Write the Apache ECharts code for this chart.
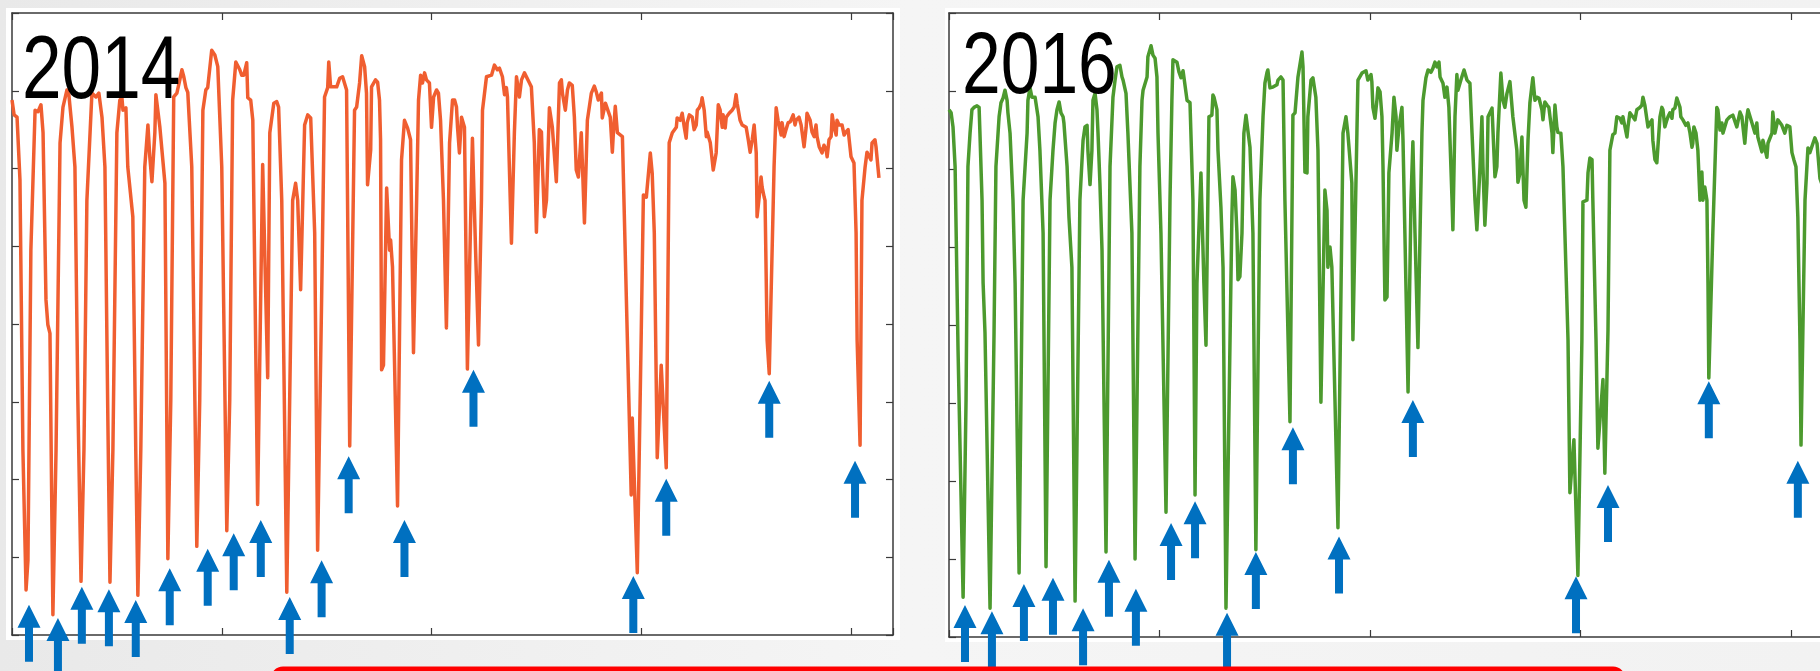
<!DOCTYPE html>
<html>
<head>
<meta charset="utf-8">
<script src="https://cdn.jsdelivr.net/npm/echarts@6/dist/echarts.min.js"></script>
<style>
  html, body { margin: 0; padding: 0; }
  #chart { width: 1820px; height: 671px; }
</style>
</head>
<body>
<div id="chart"></div>
<script>
// 2014: day index / daily output (x: 0..420, y: 0..80)
const days2014 = [0,1.0,2.4,3.8,5.2,6.7,7.6,9.0,11.0,12.4,13.8,14.8,16.2,17.1,18.1,19.5,21.0,22.9,24.3,26.2,27.1,28.6,30.0,31.4,32.9,34.3,35.7,38.1,39.0,40.0,41.4,42.9,44.3,45.7,46.7,48.1,50.0,51.4,52.4,52.9,54.3,55.2,57.6,59.0,60.0,61.4,63.3,64.8,65.7,66.7,68.1,68.6,70.5,72.9,74.3,75.7,77.1,78.6,80.0,81.0,81.9,82.9,83.8,85.7,88.1,89.5,91.0,92.4,93.3,95.2,96.7,98.1,100.0,102.4,103.8,105.2,106.7,107.6,108.6,109.5,110.5,111.9,112.4,113.8,114.8,116.2,117.1,119.5,121.9,122.9,124.8,126.2,127.1,128.6,131.0,133.8,135.2,136.2,137.6,139.5,141.0,142.4,144.3,145.7,147.6,149.0,150.5,151.0,151.9,154.8,156.2,157.6,159.5,161.0,163.3,164.3,165.7,166.7,168.1,169.0,169.5,171.0,171.4,173.3,174.3,175.2,175.7,176.2,177.1,178.6,180.0,180.5,181.4,183.8,185.7,187.1,188.6,190.0,191.4,192.9,193.8,194.8,195.7,196.7,197.6,199.0,200.0,201.0,202.4,203.3,204.3,205.7,207.1,208.6,210.0,211.0,211.9,212.4,213.3,214.3,214.8,215.7,217.1,219.5,221.0,222.4,223.8,224.3,226.2,228.6,230.0,231.4,232.4,233.8,234.8,235.7,236.2,238.1,239.5,240.5,241.9,242.9,244.3,245.2,246.7,247.6,249.0,250.0,251.4,252.4,252.9,253.8,254.8,256.2,257.6,259.5,261.0,261.9,262.4,263.8,264.8,265.7,267.1,268.1,269.0,270.0,271.4,272.9,274.3,276.2,277.6,278.6,279.5,281.0,281.4,282.9,283.8,285.2,286.2,286.7,287.6,288.6,289.5,291.0,292.9,295.2,295.7,298.1,300.0,301.0,302.4,304.3,305.2,306.2,307.6,309.5,311.9,313.3,314.8,316.7,317.1,318.6,319.5,320.5,321.4,321.9,322.9,323.8,324.3,325.2,326.2,326.7,327.6,328.6,329.0,330.0,331.0,331.4,332.9,333.8,334.3,335.7,336.7,337.6,338.6,339.0,340.0,340.5,341.9,343.3,344.3,345.2,345.7,347.1,348.1,350.0,351.0,351.9,352.9,353.8,354.8,355.2,356.2,357.1,357.6,358.6,359.0,360.0,361.0,363.3,364.3,365.2,366.7,367.1,368.1,369.0,370.0,371.0,372.4,373.3,373.8,375.2,376.2,376.7,377.6,378.6,379.0,380.5,381.4,382.4,383.3,383.8,384.8,386.2,387.1,388.1,388.6,389.5,390.5,391.0,391.9,392.9,393.3,394.3,395.7,396.7,397.6,398.6,400.0,401.4,402.4,402.9,404.3,405.2,406.7,407.6,409.5,410.0,411.4,411.9,413.3];
const values2014 = [68.8,66.9,66.6,58.5,23.8,5.8,9.6,49.5,67.5,67.3,68.2,64.6,43.1,39.9,38.8,2.6,23.8,63.3,67.9,70.1,69.5,65.3,60.2,30.2,6.9,23.8,55.9,69.7,69.8,69.2,69.7,66.6,60.2,27.7,6.8,23.8,64.6,68.8,69.1,67.5,67.8,60.2,53.8,23.8,5.1,23.8,60.2,65.6,61.5,58.3,64.6,69.5,65.3,58.1,9.8,30.2,69.2,69.7,71.4,72.7,71.8,70.4,69.8,60.2,11.4,30.2,67.5,70.1,70.4,75.2,74.6,73.1,60.2,13.4,30.2,68.8,73.7,73.7,72.7,72.0,72.0,73.6,69.1,68.8,66.2,36.7,16.8,60.5,33.1,64.6,68.4,68.6,67.9,55.9,5.5,55.9,58.1,55.9,44.4,65.6,66.9,66.5,51.7,10.9,43.1,69.2,70.4,73.7,70.5,70.5,71.6,71.8,70.1,24.3,67.5,67.9,71.0,74.5,73.1,69.7,57.9,62.4,70.5,71.4,71.1,68.8,63.7,34.1,34.7,57.5,49.5,50.8,47.3,16.6,61.1,66.2,65.2,63.7,36.3,55.9,68.8,72.0,71.0,72.3,71.4,71.0,65.3,69.2,70.1,69.7,66.2,55.9,39.5,63.3,68.8,68.8,67.9,65.3,62.0,66.6,66.5,65.3,34.2,63.9,49.5,37.3,55.9,67.5,71.8,72.0,73.3,72.7,72.9,71.8,69.5,70.4,69.2,50.4,64.6,71.8,69.2,71.4,72.3,72.4,71.0,70.5,63.3,51.8,65.0,64.7,60.2,53.8,55.9,67.8,65.3,58.3,71.0,71.4,69.7,67.5,70.1,71.0,70.7,66.6,59.8,58.9,64.6,53.0,66.2,69.7,70.6,69.8,68.8,69.7,66.5,68.4,68.2,66.6,62.1,64.6,68.0,64.6,64.7,64.1,43.1,18.0,27.9,8.0,39.2,56.6,56.3,62.0,59.4,51.7,22.8,34.7,21.5,63.3,64.6,65.3,66.5,66.2,67.1,65.3,63.9,65.9,66.9,67.1,66.6,65.0,65.6,67.5,67.8,68.4,69.1,67.5,64.1,64.7,63.3,61.1,59.8,62.0,68.2,67.5,65.3,66.9,65.2,66.6,67.1,67.5,67.9,69.5,68.4,66.2,65.6,65.3,63.7,62.1,63.7,65.6,62.0,53.8,56.3,58.9,57.6,56.3,55.9,37.9,33.6,60.2,67.8,66.2,64.3,65.9,64.1,65.0,65.9,66.0,66.9,65.6,66.2,66.6,65.6,64.6,62.8,65.3,67.1,66.2,64.7,64.1,65.6,64.1,62.8,62.0,63.0,62.4,61.5,63.7,64.1,66.9,65.3,64.3,66.2,65.6,65.6,64.3,64.7,65.0,61.5,60.7,51.7,37.9,24.4,55.9,60.2,62.1,61.1,63.3,63.7,62.8,58.8];

// 2016
const days2016 = [0,1.0,1.9,2.9,4.3,6.7,8.1,9.0,10.0,10.9,11.9,12.8,13.3,14.3,14.7,15.7,16.2,17.1,19.5,21.4,22.3,23.8,24.7,25.7,26.6,27.6,28.0,29.0,30.4,31.4,33.3,35.2,37.1,37.5,38.5,39.4,39.9,40.9,41.8,42.3,43.2,44.7,46.1,48.0,49.4,50.4,51.3,52.3,53.2,54.2,54.6,56.1,57.0,58.4,59.9,62.2,63.7,64.6,65.6,66.0,67.0,67.9,68.4,69.4,70.3,70.8,71.7,72.7,74.6,76.5,77.9,78.9,79.8,80.3,81.2,82.2,82.7,84.1,85.0,86.9,88.4,90.7,91.7,92.2,93.1,94.1,94.5,96.0,96.9,97.9,98.8,99.3,100.7,103.1,105.0,105.9,106.4,108.3,109.3,110.2,111.2,112.1,113.1,113.5,114.5,115.9,116.9,117.8,119.7,121.1,122.1,123.5,124.9,125.4,125.9,127.3,127.8,129.2,130.2,131.6,134.4,134.9,135.9,136.8,137.3,138.2,139.2,140.1,141.1,142.0,143.0,144.4,145.8,147.7,149.2,150.1,151.1,151.5,152.5,153.9,155.8,156.3,157.7,158.7,159.6,162.0,163.4,164.4,165.8,167.7,168.2,169.1,170.1,170.5,172.0,172.9,174.3,175.3,176.7,178.6,179.6,180.0,181.0,181.9,184.8,187.2,188.6,189.5,191.4,191.9,193.8,194.3,196.2,196.7,198.1,199.0,200.5,200.9,201.4,202.4,203.3,203.8,204.8,205.7,206.2,207.1,208.1,209.0,210.5,211.4,212.4,212.8,213.8,215.2,215.7,216.6,218.1,219.5,220.4,221.4,222.8,223.8,224.7,225.2,226.6,227.6,229.0,229.9,230.9,231.8,232.8,233.3,234.7,235.6,236.6,237.5,239.0,239.4,240.4,241.3,241.8,243.2,244.7,246.1,247.5,248.5,249.9,250.8,252.3,253.2,253.7,254.6,255.6,256.1,258.0,258.9,259.4,260.3,260.8,262.2,263.2,264.1,265.1,266.5,267.9,269.8,270.3,271.3,272.2,273.2,274.1,275.1,276.0,277.4,278.4,279.3,280.3,281.7,282.2,283.1,284.1,285.0,286.5,286.9,287.9,288.8,289.3,290.7,291.7,293.1,294.1,295.0,296.9,298.8,300.7,301.2,303.1,303.6,304.5,305.5,305.9,307.4,308.3,310.7,311.6,313.1,314.0,315.4,316.4,317.3,318.8,319.7,320.2,322.1,322.6,323.5,324.9,325.9,326.8,328.3,329.2,329.7,330.6,331.6,332.1,333.0,334.0,334.4,335.4,336.3,336.8,337.8,338.7,339.2,340.1,341.1,341.6,342.5,343.5,343.9,344.9,345.8,347.3,347.7,348.7,350.1,351.1,352.0,353.0,353.4,353.9,354.9,355.8,356.8,357.7,358.2,359.1,360.1,360.6,361.0,362.9,363.9,364.8,365.3,366.3,367.2,367.7,369.6,371.0,372.4,374.3,375.8,376.7,378.1,379.1,379.6,381.5,382.9,383.8,384.3,386.2,386.7,388.6,389.1,391.0,391.4,392.4,393.8,395.7,397.1,398.1,399.5,400.5,401.4,402.4,403.3,404.3,404.8,406.7,407.6,408.1,409.0,410.5,411.4,412.4,413.8,415.7];
const values2016 = [67.6,67.2,65.4,60.3,36.8,5.1,30.4,60.3,64.6,67.6,67.9,67.8,68.1,67.9,64.6,56.0,45.4,39.0,3.7,39.0,60.3,66.7,68.5,69.1,70.1,68.8,67.2,64.6,56.0,45.4,8.2,56.0,64.6,68.8,70.4,69.2,69.1,69.2,69.1,66.7,62.4,51.8,9.0,56.0,62.4,65.9,67.6,68.6,67.2,66.7,65.9,60.3,53.8,47.4,4.6,56.0,63.7,65.4,65.6,62.4,58.0,62.4,68.8,69.7,67.6,64.6,58.2,49.6,10.9,60.3,69.2,71.4,73.1,73.0,73.3,71.8,71.4,69.7,64.6,51.8,10.0,60.3,68.8,70.1,70.3,71.8,74.4,75.8,74.6,74.2,71.8,64.6,51.8,16.0,56.0,68.8,74.0,73.7,72.4,71.7,72.6,72.6,68.8,69.0,68.5,56.0,18.2,45.4,59.5,45.4,37.4,66.7,66.9,69.5,69.2,67.6,62.4,55.1,47.4,3.7,53.8,59.0,57.3,51.8,45.8,46.2,51.8,64.6,66.9,66.7,62.8,51.8,11.2,56.0,66.7,71.0,72.4,72.7,70.4,70.5,70.8,71.4,71.8,71.4,56.0,27.6,66.9,67.2,71.8,75.0,73.1,59.6,59.5,66.7,71.4,71.7,69.2,62.4,30.1,57.3,54.7,47.4,50.0,47.4,14.0,64.6,66.7,64.6,58.2,38.1,64.6,71.4,72.3,72.1,72.6,71.4,72.1,71.2,67.9,66.5,68.8,70.4,69.9,66.7,60.3,43.2,43.6,59.5,64.6,69.2,66.7,62.4,65.4,67.9,63.7,51.8,31.4,56.0,63.5,51.8,37.1,51.8,64.6,68.8,71.7,72.7,72.4,72.9,73.7,73.1,73.7,71.8,71.0,69.2,70.5,67.9,56.0,52.2,66.7,72.1,70.1,71.4,72.7,71.4,71.0,64.6,56.0,52.2,60.3,66.7,60.3,52.8,58.2,66.7,67.8,62.1,59.0,60.3,64.6,72.3,68.8,67.9,69.7,71.2,66.7,62.4,58.3,59.5,64.1,56.0,55.1,63.7,68.5,71.7,68.8,69.2,69.1,67.6,66.3,68.6,68.2,67.9,64.6,62.1,68.2,65.4,64.7,64.6,60.3,47.4,38.1,18.5,25.3,7.9,38.1,55.8,56.0,59.5,61.4,61.2,56.0,38.1,24.2,33.0,21.0,39.4,62.4,64.4,64.6,66.7,66.5,65.9,66.7,64.1,65.4,67.2,66.7,66.3,67.6,67.9,68.2,69.2,68.2,66.3,65.4,65.9,66.3,63.7,61.2,60.8,62.8,66.7,67.9,67.6,65.4,66.3,66.7,67.2,66.5,67.6,67.8,69.1,67.9,66.7,66.3,65.6,65.9,64.7,62.8,63.3,65.4,64.6,62.4,56.0,59.6,56.0,57.7,56.0,45.4,33.2,51.8,60.3,67.9,67.6,65.0,65.9,64.6,66.3,66.7,66.9,65.4,67.3,66.7,63.3,66.7,67.6,65.9,64.6,65.9,64.1,62.2,63.7,61.5,63.3,64.6,67.3,64.6,66.3,65.6,64.6,65.6,65.4,62.1,61.2,60.3,53.8,38.1,24.6,56.0,60.3,62.7,62.1,63.3,64.0,63.3,58.8,57.3];

// arrows: day of the marked dip and the value where the arrow tip sits
const arrowDays2014 = [8.1,21.9,33.3,46.2,59.0,75.2,93.3,105.7,118.6,132.4,147.6,160.5,187.1,220.0,296.2,311.9,361.0,401.9];
const arrowTips2014 = [3.9,2.2,6.2,5.9,4.5,8.6,11.1,13.1,14.8,4.9,9.6,23.0,14.8,34.1,7.6,20.1,32.7,22.4];
const arrowDays2016 = [7.6,20.4,35.6,49.4,63.7,76.0,88.8,105.5,116.9,132.1,145.8,163.4,185.3,220.4,297.9,313.1,361.0,403.3];
const arrowTips2016 = [4.1,3.3,6.8,7.6,3.7,9.9,6.2,14.6,17.4,3.1,10.9,26.9,12.9,30.4,7.8,19.5,32.8,22.6];

const yearLabels = ['2014', '2016'];

//组合 [x, y]
const zip = (xs, ys) => xs.map((x, i) => [x, ys[i]]);

const frameColor = '#3a3a3a';
const arrowPath = 'path://M11.5,0L23,23L15.5,23L15.5,57L7.5,57L7.5,23L0,23Z';

//坐标轴（四边框）
const makeAxis = (gridIndex, position, max, interval) => ({
  type: 'value',
  gridIndex,
  position,
  min: 0,
  max,
  interval,
  axisLine: { show: true, onZero: false, lineStyle: { color: frameColor, width: 1.5 } },
  axisTick: { show: true, inside: true, length: 7, lineStyle: { color: frameColor, width: 1.2 } },
  axisLabel: { show: false },
  splitLine: { show: false },
});

const lineSeries = (idx, xs, ys, color) => ({
  type: 'line',
  xAxisIndex: idx * 2,
  yAxisIndex: idx * 2,
  data: zip(xs, ys),
  showSymbol: false,
  symbol: 'none',
  lineStyle: { color, width: 3.5, join: 'round' },
  z: 3,
});

const arrowSeries = (idx, xs, ys) => ({
  type: 'scatter',
  xAxisIndex: idx * 2,
  yAxisIndex: idx * 2,
  data: zip(xs, ys),
  symbol: arrowPath,
  symbolSize: [23, 57],
  symbolOffset: [0, 28.5],
  itemStyle: { color: '#0070C0', opacity: 1 },
  clip: false,
  z: 6,
});

const chart = echarts.init(document.getElementById('chart'));
chart.setOption({
  animation: false,
  backgroundColor: '#efefef',
  grid: [
    { left: 12, top: 13, width: 881, height: 622, outerBoundsMode: 'none' },
    { left: 949, top: 13, width: 884, height: 624, outerBoundsMode: 'none' },
  ],
  xAxis: [
    makeAxis(0, 'bottom', 420, 100),
    makeAxis(0, 'top', 420, 100),
    makeAxis(1, 'bottom', 420, 100),
    makeAxis(1, 'top', 420, 100),
  ],
  yAxis: [
    makeAxis(0, 'left', 80, 10),
    makeAxis(0, 'right', 80, 10),
    makeAxis(1, 'left', 80, 10),
    makeAxis(1, 'right', 80, 10),
  ],
  series: [
    lineSeries(0, days2014, values2014, '#F05E30'),
    lineSeries(1, days2016, values2016, '#4C9A2E'),
    arrowSeries(0, arrowDays2014, arrowTips2014),
    arrowSeries(1, arrowDays2016, arrowTips2016),
  ],
  graphic: [
    {
      type: 'rect', z: -3, silent: true,
      shape: { x: 0, y: 0, width: 1820, height: 671 },
      style: {
        fill: new echarts.graphic.LinearGradient(0, 0, 1, 0, [
          { offset: 0, color: '#e9e9e9' },
          { offset: 0.5, color: '#f5f5f5' },
          { offset: 1, color: '#f2f2f2' },
        ]),
      },
    },
    { type: 'rect', z: -1, silent: true, shape: { x: 6, y: 8, width: 894, height: 632 }, style: { fill: '#ffffff' } },
    { type: 'rect', z: -1, silent: true, shape: { x: 945, y: 8, width: 880, height: 634 }, style: { fill: '#ffffff' } },
    {
      type: 'text', z: 50, x: 22, y: 73, scaleX: 0.8,
      style: { text: yearLabels[0], x: 0, y: 0, fill: '#000', font: '89px "Liberation Sans", Arial, sans-serif', verticalAlign: 'middle', align: 'left' },
    },
    {
      type: 'text', z: 50, x: 962, y: 69, scaleX: 0.8,
      style: { text: yearLabels[1], x: 0, y: 0, fill: '#000', font: '87px "Liberation Sans", Arial, sans-serif', verticalAlign: 'middle', align: 'left' },
    },
    {
      type: 'rect', z: 40, silent: true,
      shape: { x: 273, y: 669, width: 1350, height: 40, r: 10 },
      style: { fill: 'none', stroke: '#ff0000', lineWidth: 5 },
    },
  ],
});
</script>
</body>
</html>
